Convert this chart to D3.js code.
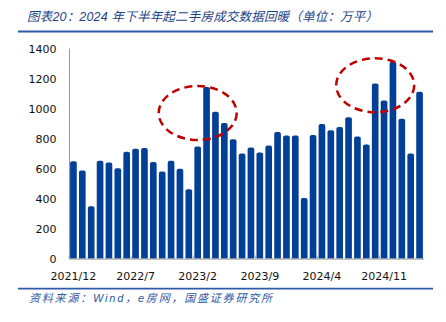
<!DOCTYPE html>
<html><head><meta charset="utf-8">
<script src="https://cdn.jsdelivr.net/npm/d3@7"></script>
<style>html,body{margin:0;padding:0;background:#fff;}svg{display:block;}</style>
</head><body>
<svg id="c" width="446" height="322"></svg>
<script>
const categories = ["2021/12","2022/1","2022/2","2022/3","2022/4","2022/5","2022/6","2022/7","2022/8","2022/9","2022/10","2022/11","2022/12","2023/1","2023/2","2023/3","2023/4","2023/5","2023/6","2023/7","2023/8","2023/9","2023/10","2023/11","2023/12","2024/1","2024/2","2024/3","2024/4","2024/5","2024/6","2024/7","2024/8","2024/9","2024/10","2024/11","2024/12","2025/1","2025/2","2025/3"];
const values = [649,587,349,651,640,602,711,731,736,644,580,651,598,462,747,1144,978,904,795,700,740,707,753,844,820,820,404,824,897,855,877,942,813,760,1167,1053,1311,931,700,1111];
const tickLabels = ["2021/12","2022/7","2023/2","2023/9","2024/4","2024/11"];
const yTicks = [0,200,400,600,800,1000,1200,1400];
const titleText = "图表20：2024 年下半年起二手房成交数据回暖（单位：万平）";
const sourceText = "资料来源：Wind，e房网，国盛证券研究所";
const highlights = [{cat:"2023/2", v:970}, {cat:"2024/10", v:1155}];

const svg = d3.select("#c");
const x = d3.scaleBand().domain(categories).range([69,424]).paddingInner(0.25).paddingOuter(0.125);
const y = d3.scaleLinear().domain([0,1400]).range([258.5,48.5]);
const step = x.step();

// title
svg.append("text").attr("x",27).attr("y",21)
  .attr("font-family","'Liberation Sans','Noto Sans CJK SC',sans-serif")
  .attr("font-size",12.5).attr("font-style","italic").attr("fill","#1d3f86")
  .attr("textLength",351).attr("lengthAdjust","spacing")
  .text(titleText);
svg.append("line").attr("x1",18).attr("x2",433).attr("y1",31.5).attr("y2",31.5)
  .attr("stroke","#2f5aa8").attr("stroke-width",1.8);

// axes
svg.append("line").attr("x1",69.5).attr("x2",69.5).attr("y1",y(1400)).attr("y2",y(0))
  .attr("stroke","#9a9a9a").attr("stroke-width",1);
const yAxisG = svg.append("g").attr("transform","translate(69.5,0)")
  .call(d3.axisLeft(y).tickValues(yTicks).tickSize(0).tickPadding(13).tickFormat(d3.format("d")));
yAxisG.select(".domain").remove();
yAxisG.selectAll("text").attr("font-family","'DejaVu Sans',sans-serif").attr("font-size",11).attr("fill","#111");

// bars
const r = 2;
svg.append("g").selectAll("path").data(values).join("path")
  .attr("fill","#023f97")
  .attr("d",(d,i)=>{
    const x0 = x(categories[i]), w = x.bandwidth(), yt = y(d), yb = y(0);
    return `M${x0},${yb}V${yt+r}Q${x0},${yt} ${x0+r},${yt}H${x0+w-r}Q${x0+w},${yt} ${x0+w},${yt+r}V${yb}Z`;
  });

// x axis
svg.append("line").attr("x1",69).attr("x2",424).attr("y1",y(0)+0.5).attr("y2",y(0)+0.5)
  .attr("stroke","#8a8a8a").attr("stroke-width",1);
svg.append("g").selectAll("line").data(tickLabels).join("line")
  .attr("x1",d=>x(d)-step*x.paddingInner()/2).attr("x2",d=>x(d)-step*x.paddingInner()/2)
  .attr("y1",y(0)).attr("y2",y(0)-3).attr("stroke","#aaa").attr("stroke-width",1);
svg.append("g").selectAll("text").data(tickLabels).join("text")
  .attr("x",d=>x(d)+x.bandwidth()/2).attr("y",280)
  .attr("text-anchor","middle").attr("font-family","'DejaVu Sans',sans-serif")
  .attr("font-size",11).attr("fill","#111").text(d=>d);

// highlight ellipses
svg.append("g").selectAll("ellipse").data(highlights).join("ellipse")
  .attr("cx",d=>x(d.cat)+x.bandwidth()/2).attr("cy",d=>y(d.v))
  .attr("rx",39).attr("ry",27)
  .attr("fill","none").attr("stroke","#c00000").attr("stroke-width",2.5)
  .attr("stroke-dasharray","8,5");

// source
svg.append("line").attr("x1",18).attr("x2",433).attr("y1",288.7).attr("y2",288.7)
  .attr("stroke","#2f5aa8").attr("stroke-width",1.8);
svg.append("text").attr("x",29).attr("y",302)
  .attr("font-family","'Liberation Sans','Noto Sans CJK SC',sans-serif")
  .attr("font-size",11).attr("font-style","italic").attr("fill","#2e58a6")
  .attr("textLength",243).attr("lengthAdjust","spacing")
  .text(sourceText);
</script>
</body></html>
